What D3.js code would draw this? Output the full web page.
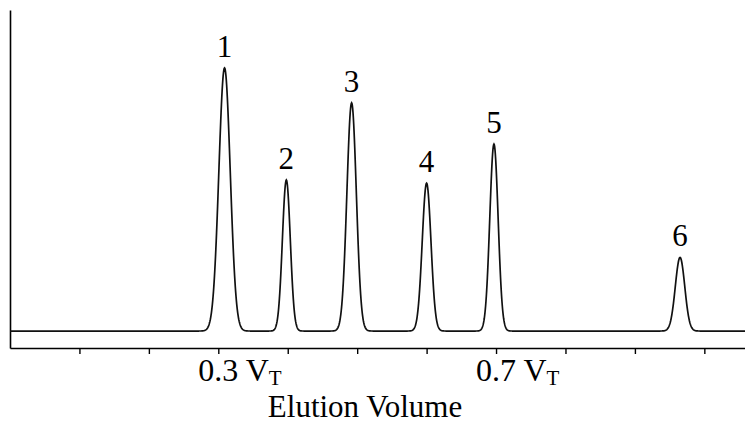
<!DOCTYPE html>
<html>
<head>
<meta charset="utf-8">
<script src="https://d3js.org/d3.v7.min.js"></script>
<style>
  body { margin: 0; background: #fff; overflow: hidden; }
  svg { display: block; }
</style>
</head>
<body>
<div id="chart"></div>
<script>
// peak data
var peakLabels  = ["1", "2", "3", "4", "5", "6"];
var peakVolumes = [0.309, 0.398, 0.492, 0.600, 0.697, 0.965];   // fraction of V_T
var peakHeights = [82.2, 47.2, 71.3, 46.2, 58.4, 23.0];          // detector response
var peakSigmas  = [0.0082, 0.0057, 0.0068, 0.0063, 0.0060, 0.0068];

// x ticks and the ones that get a label
var tickValues = [0.1, 0.2, 0.3, 0.4, 0.5, 0.6, 0.7, 0.8, 0.9, 1.0];
var labelledTicks = [0.3, 0.7];

// set the dimensions
var W = 745, H = 424;
var left = 10, right = 746, axisY = 348, topY = 10;
var FONT = "Liberation Serif";

var svg = d3.select("#chart")
  .append("svg")
    .attr("width", W)
    .attr("height", H);

// scales
var x = d3.scaleLinear()
  .domain([0, 1.06])
  .range([left, right]);

var y = d3.scaleLinear()
  .domain([-5.3, 100])
  .range([axisY, 11]);

// X axis
var xAxis = svg.append("g")
  .attr("transform", "translate(0," + axisY + ")")
  .call(d3.axisBottom(x)
    .tickValues(tickValues)
    .tickSize(6)
    .tickSizeOuter(0)
    .tickFormat(""));
xAxis.select(".domain").attr("stroke", "#000").attr("stroke-width", 1.6);
xAxis.selectAll(".tick line").attr("stroke", "#000").attr("stroke-width", 1.4);

// tick labels with a subscript T, the number itself sits centred on the tick
svg.selectAll("text.xlab")
  .data(labelledTicks)
  .enter()
  .append("text")
    .attr("class", "xlab")
    .attr("y", 381)
    .attr("text-anchor", "start")
    .attr("font-family", FONT)
    .attr("font-size", 32)
    .each(function(d) {
      var t = d3.select(this);
      var num = d3.format(".1f")(d);
      t.append("tspan").attr("font-family", FONT).text(num + " V");
      t.append("tspan").attr("font-family", FONT).attr("dy", 3.5).attr("font-size", 21).text("T");
      var w = this.getSubStringLength(0, num.length);
      t.attr("x", x(d) - w / 2);
    });

// axis title
svg.append("text")
  .attr("x", 365)
  .attr("y", 417)
  .attr("text-anchor", "middle")
  .attr("font-family", FONT)
  .attr("font-size", 31)
  .text("Elution Volume");

// Y axis, just the line
var yAxis = svg.append("g")
  .attr("transform", "translate(" + left + ",0)")
  .call(d3.axisLeft(y.copy().range([axisY, topY])).ticks(0).tickSizeOuter(0));
yAxis.select(".domain").attr("stroke", "#000").attr("stroke-width", 1.6);

// chromatogram trace: sum of the gaussian peaks
var trace = d3.range(0, 1.06, 0.0005).map(function(v) {
  var s = 0;
  peakVolumes.forEach(function(c, i) {
    var z = (v - c) / peakSigmas[i];
    s += peakHeights[i] * Math.exp(-0.5 * z * z);
  });
  return [v, s];
});

var line = d3.line()
  .x(function(d) { return x(d[0]); })
  .y(function(d) { return y(d[1]); });

svg.append("path")
  .datum(trace)
  .attr("fill", "none")
  .attr("stroke", "#111")
  .attr("stroke-width", 1.7)
  .attr("d", line);

// peak numbers
svg.selectAll("text.peak")
  .data(peakLabels)
  .enter()
  .append("text")
    .attr("class", "peak")
    .attr("x", function(d, i) { return x(peakVolumes[i]); })
    .attr("y", function(d, i) { return y(peakHeights[i]) - 11; })
    .attr("text-anchor", "middle")
    .attr("font-family", FONT)
    .attr("font-size", 31)
    .text(function(d) { return d; });
</script>
</body>
</html>
